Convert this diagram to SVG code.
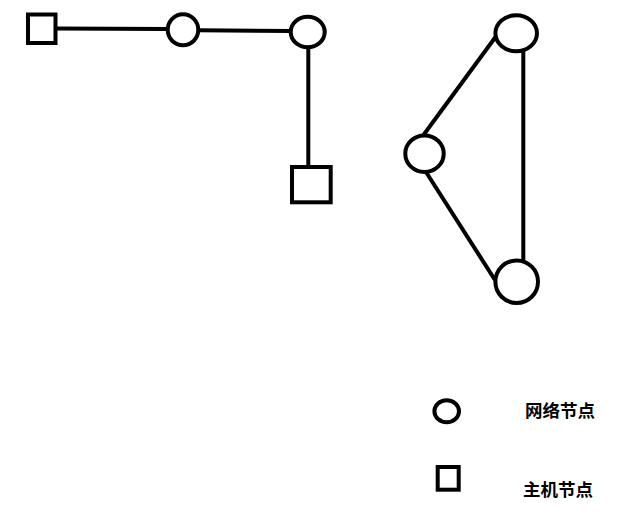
<svg xmlns="http://www.w3.org/2000/svg" width="630" height="527" viewBox="0 0 630 527">
<style>
.s{fill:#fff;stroke:#000;stroke-width:4}
.e{stroke:#000;stroke-width:4;fill:none}
.t{font-family:"Noto Sans CJK SC","Noto Sans",sans-serif;font-weight:bold;font-size:17.5px;fill:#000}
</style>
<rect width="630" height="527" fill="#fff"/>
<g id="connectors">
<line class="e" x1="55" y1="28.5" x2="168" y2="29"/>
<line class="e" x1="198" y1="30.3" x2="291" y2="31"/>
<line class="e" x1="308.3" y1="47" x2="308.3" y2="167"/>
<line class="e" x1="523.3" y1="50" x2="523.3" y2="262"/>
<line class="e" x1="497" y1="35" x2="422" y2="137"/>
<line class="e" x1="426" y1="172" x2="495" y2="280"/>
</g>
<g id="host1"><rect class="s" x="28" y="14.5" width="27.5" height="28.5"/></g>
<g id="net1"><ellipse class="s" cx="183" cy="29.8" rx="15.3" ry="15.5"/></g>
<g id="net2"><ellipse class="s" cx="307.7" cy="32" rx="17" ry="15.2"/></g>
<g id="host2"><rect class="s" x="292" y="167" width="38.7" height="35.3"/></g>
<g id="net3"><ellipse class="s" cx="516.2" cy="33.3" rx="20.8" ry="18"/></g>
<g id="net4"><ellipse class="s" cx="424.5" cy="153.7" rx="19.2" ry="18.3"/></g>
<g id="net5"><ellipse class="s" cx="516.7" cy="281.7" rx="21.3" ry="21.3"/></g>
<g id="legend-net"><ellipse class="s" cx="446.7" cy="411.3" rx="12.3" ry="11"/><text class="t" x="525" y="417">网络节点</text></g>
<g id="legend-host"><rect class="s" x="437.7" y="467" width="21" height="22.7"/><text class="t" x="523" y="496">主机节点</text></g>
</svg>
